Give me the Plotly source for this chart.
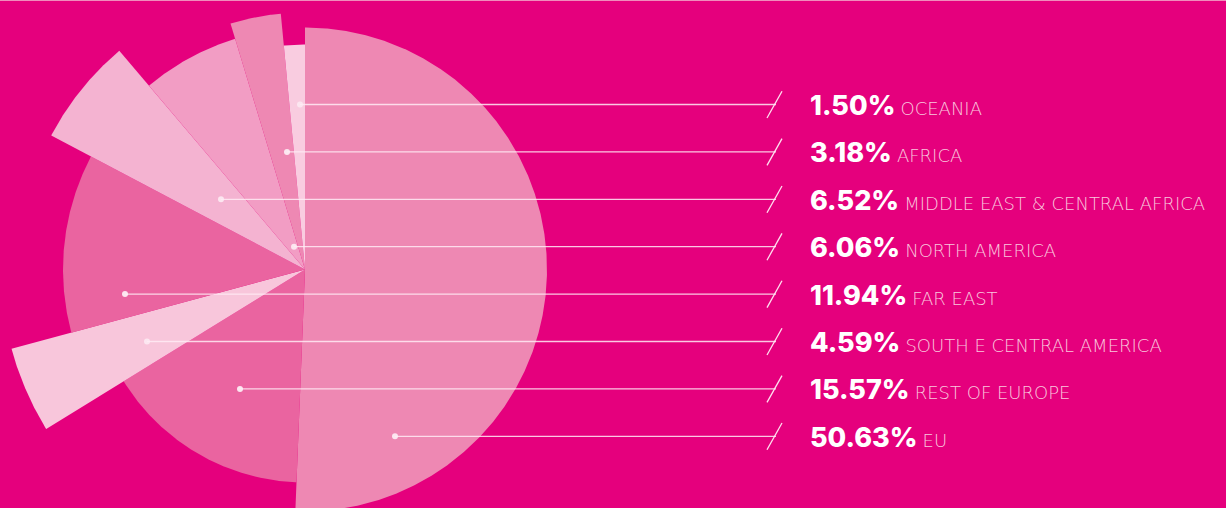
import numpy as np
import plotly.graph_objects as go

# ---------------- data ----------------
regions = ["EU", "REST OF EUROPE", "SOUTH E CENTRAL AMERICA", "FAR EAST",
           "NORTH AMERICA", "MIDDLE EAST & CENTRAL AFRICA", "AFRICA", "OCEANIA"]
shares = [50.63, 15.57, 4.59, 11.94, 6.06, 6.52, 3.18, 1.50]
share_labels = ["50.63%", "15.57%", "4.59%", "11.94%", "6.06%", "6.52%", "3.18%", "1.50%"]

# ---------------- style / layout ----------------
W, H = 1226, 508
CX, CY = 305, 269.5                      # pie centre in screen px
slice_radius = [242, 213, 304, 242, 287, 241, 257, 225]   # decorative radii (px)
slice_colors = ["#EE88B3", "#EA64A0", "#F8C6DB", "#EA64A0",
                "#F4B3D1", "#F29DC4", "#EE88B3", "#F9CCE0"]
BG = "#E5007D"
row_y0, row_step = 436.3, 47.4           # label rows (screen px), EU at bottom
dot_x = [395, 240, 147, 125, 294, 221, 287, 300]          # leader line start (screen px)
label_x = 808
line_end_x = 776

fig = go.Figure()

# wedges
total = sum(shares)
start = 0.0
for name, v, r, c in zip(regions, shares, slice_radius, slice_colors):
    span = v / total * 360.0
    th = np.radians(np.linspace(start, start + span, max(int(span * 4), 4)))
    xs = np.concatenate([[0], r * np.sin(th), [0]])
    ys = np.concatenate([[0], r * np.cos(th), [0]])
    fig.add_trace(go.Scatter(x=xs, y=ys, mode="lines", fill="toself",
                             fillcolor=c, line=dict(width=0, color=c),
                             hoverinfo="text", text=name, showlegend=False))
    start += span

def sy(y_screen):
    return CY - y_screen

def sx(x_screen):
    return x_screen - CX

shapes = []
annotations = []
dots_x, dots_y = [], []
for k, (name, lab) in enumerate(zip(regions, share_labels)):
    ys_ = row_y0 - k * row_step
    Y = sy(ys_)
    shapes.append(dict(type="line", xref="x", yref="y",
                       x0=sx(dot_x[k]), x1=sx(line_end_x), y0=Y, y1=Y,
                       line=dict(color="rgba(255,235,245,0.85)", width=1.3)))
    shapes.append(dict(type="line", xref="x", yref="y",
                       x0=sx(767), x1=sx(782), y0=Y - 13.5, y1=Y + 13.3,
                       line=dict(color="rgba(255,235,245,0.95)", width=1.3)))
    dots_x.append(sx(dot_x[k]))
    dots_y.append(Y)
    annotations.append(dict(
        x=sx(label_x), y=Y - 1, xref="x", yref="y", xanchor="left", yanchor="middle",
        showarrow=False,
        text=("<span style='font-family:Inter;font-weight:800;font-size:27px;color:#FFFFFF'>" + lab +
              "</span> <span style='font-family:DejaVu Sans;font-weight:200;font-size:18px;color:#F9C6DC'>" +
              name.replace("&", "&amp;") + "</span>"),
        font=dict(family="Inter", size=18, color="#FFFFFF")))

fig.add_trace(go.Scatter(x=dots_x, y=dots_y, mode="markers",
                         marker=dict(size=6, color="#FCE6F0"),
                         hoverinfo="skip", showlegend=False))

# thin light strip on top edge
shapes.append(dict(type="line", xref="paper", yref="paper", x0=0, x1=1, y0=1, y1=1,
                   line=dict(color="#F08CBC", width=2)))

fig.update_layout(
    width=W, height=H, margin=dict(l=0, r=0, t=0, b=0),
    paper_bgcolor=BG, plot_bgcolor=BG,
    xaxis=dict(range=[-CX, W - CX], visible=False, fixedrange=True),
    yaxis=dict(range=[CY - H, CY], visible=False, fixedrange=True),
    shapes=shapes, annotations=annotations, showlegend=False,
)

fig.write_html("out.html", config={"displayModeBar": False},
               post_script="document.body.style.margin='0';")
